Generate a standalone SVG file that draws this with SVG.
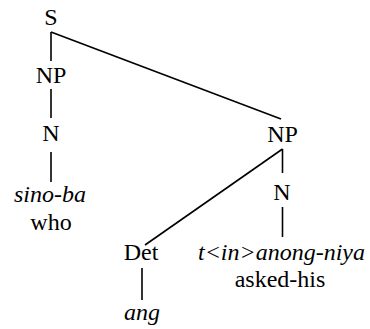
<svg xmlns="http://www.w3.org/2000/svg" width="370" height="329" viewBox="0 0 370 329">
<style>
text{font-family:"Liberation Serif","Times New Roman",serif;font-size:24px;fill:#000;text-anchor:middle}
.it{font-style:italic}
#edges line{stroke:#000;stroke-width:1.6}
</style>
<rect width="370" height="329" fill="#fff"/>
<g id="edges">
<line x1="51" y1="32" x2="51" y2="61"/>
<line x1="51" y1="32" x2="281" y2="119"/>
<line x1="51" y1="89" x2="51" y2="118"/>
<line x1="51" y1="152" x2="51" y2="182"/>
<line x1="282.5" y1="149" x2="282.5" y2="173"/>
<line x1="282.5" y1="149" x2="145" y2="245"/>
<line x1="282.5" y1="207" x2="282.5" y2="237"/>
<line x1="142" y1="268" x2="142" y2="300"/>
</g>
<g id="S"><text x="51" y="25">S</text></g>
<g id="NP1"><text x="51" y="83">NP</text></g>
<g id="N1"><text x="51" y="141">N</text></g>
<g id="sinoba"><text class="it" x="50" y="202">sino-ba</text><text x="51" y="230">who</text></g>
<g id="NP2"><text x="282.5" y="142">NP</text></g>
<g id="N2"><text x="282" y="199.5">N</text></g>
<g id="verb"><text class="it" x="281.5" y="260">t&lt;in&gt;anong-niya</text><text x="280" y="287">asked-his</text></g>
<g id="Det"><text x="141" y="260">Det</text></g>
<g id="ang"><text class="it" x="142" y="320">ang</text></g>
</svg>
